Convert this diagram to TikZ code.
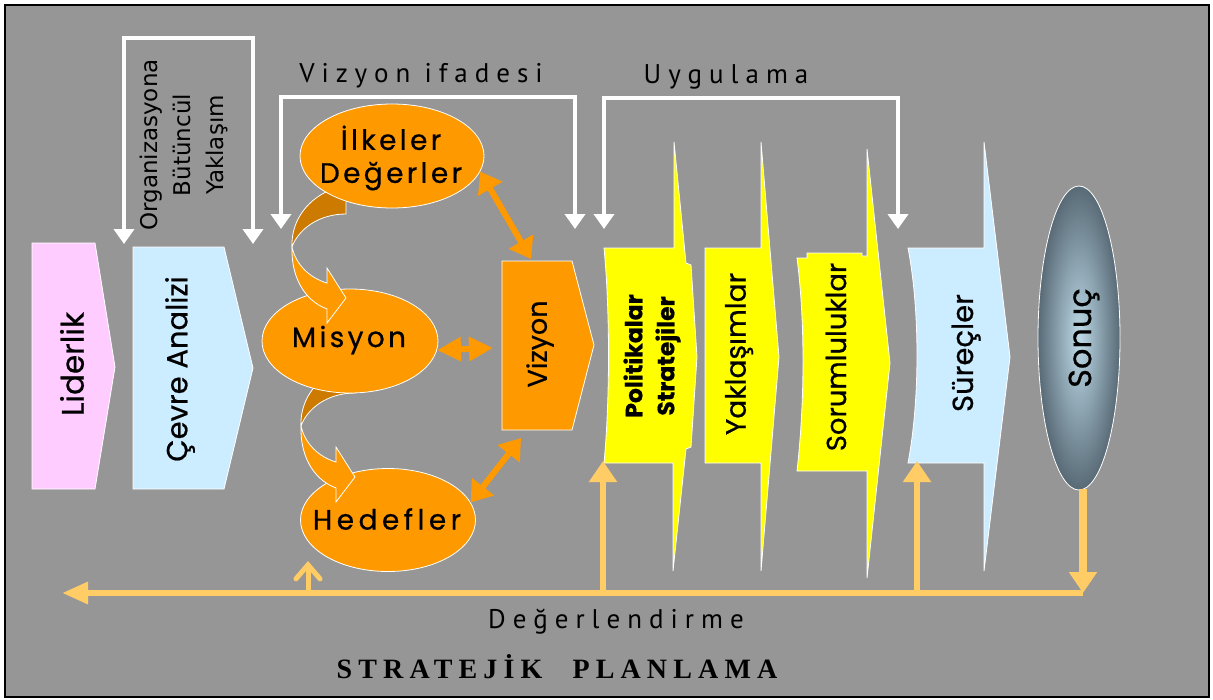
\documentclass[tikz,border=0pt]{standalone}
\usepackage{fontspec}
\usetikzlibrary{shapes.geometric, arrows.meta}

\newfontfamily\comicfont[FakeBold=0.6]{Poppins}
\newfontfamily\comicwide[LetterSpace=12,FakeBold=0.6]{Poppins}
\newfontfamily\labelfont[LetterSpace=26]{PT Sans}
\newfontfamily\plainsans{DejaVu Sans}
\newfontfamily\titlefont[LetterSpace=22]{Liberation Serif}

\definecolor{bggray}{RGB}{150,150,150}
\definecolor{orangeA}{RGB}{255,153,0}
\definecolor{orangeD}{RGB}{204,122,0}
\definecolor{pinkA}{RGB}{255,204,255}
\definecolor{blueA}{RGB}{204,236,255}
\definecolor{yellowA}{RGB}{255,255,0}
\definecolor{evalA}{RGB}{255,204,102}
\definecolor{slateD}{RGB}{88,106,118}
\definecolor{slateL}{RGB}{190,218,232}

\tikzset{
  shapebox/.style={draw=white, line width=0.8pt, line join=miter},
  rottext/.style={rotate=90, inner sep=0pt, text=black,
    font=\comicfont\fontsize{28}{30}\selectfont},
  oval/.style={ellipse, draw=white, line width=0.8pt, fill=orangeA, inner sep=0pt},
  ovaltext/.style={inner sep=0pt, align=center, text=black,
    font=\comicwide\fontsize{28}{33}\selectfont},
  bracket/.style={draw=white, line width=4pt, line join=miter,
    {Triangle[width=20pt,length=15pt]}-{Triangle[width=20pt,length=15pt]}},
  twoway/.style={draw=orangeA, line width=6pt,
    {Triangle[width=27pt,length=20pt]}-{Triangle[width=27pt,length=20pt]}},
  evalline/.style={draw=evalA, line width=6pt},
  evalhead/.style={-{Triangle[width=27pt,length=21pt]}},
  toplabel/.style={inner sep=0pt, anchor=base, text=black,
    font=\labelfont\fontsize{27}{30}\selectfont},
}

\begin{document}
\begin{tikzpicture}[x=1pt, y=-1pt]
\useasboundingbox (0,0) rectangle (1213,699);
\fill[white] (0,0) rectangle (1213,699);
\draw[black, line width=2.5pt, fill=bggray] (5,5) rectangle (1209,697);

% --- first two chevrons
\filldraw[shapebox, fill=pinkA] (32,243) -- (95,243) -- (115,367) -- (95,489) -- (32,489) -- cycle;
\node[rottext, font=\comicfont\fontsize{31}{32}\selectfont] (lider) at (72,364) {Liderlik};
\filldraw[shapebox, fill=blueA] (133,247) -- (224,247) -- (253,368) -- (224,489) -- (133,489) -- cycle;
\node[rottext, font=\comicfont\fontsize{29}{32}\selectfont] (cevre) at (180,369) {Çevre Analizi};

% --- implementation chevrons with spikes
\filldraw[shapebox, fill=yellowA] (604,248) -- (674,248) -- (674,142) -- (686,263) -- (691,265)
  -- (697,357) -- (691,447) -- (686,449) -- (673,571) -- (673,463) -- (604,463)
  .. controls (610,400) and (610,310) .. (604,248) -- cycle;
\node[rottext, align=center, font=\comicfont\bfseries\fontsize{23.5}{32}\selectfont] (polit) at (652,356) {Politikalar\\Stratejiler};

\filldraw[shapebox, fill=yellowA] (705,248) -- (761,248) -- (761,142) -- (779,357) -- (761,571)
  -- (761,463) -- (705,463) -- cycle;
\node[rottext] (yakl) at (739,354) {Yaklaşımlar};

\filldraw[shapebox, fill=yellowA] (797,258) -- (807,258) -- (807,253) -- (862,253) -- (862,256)
  -- (867,256) -- (867,149) -- (890,363) -- (867,578) -- (867,471) -- (797,471)
  .. controls (805,400) and (805,320) .. (797,258) -- cycle;
\node[rottext, font=\comicfont\fontsize{27.5}{30}\selectfont] (sorum) at (836,357) {Sorumluluklar};

\filldraw[shapebox, fill=blueA] (908,248) -- (984,248) -- (984,142) -- (1010,357) -- (984,571)
  -- (984,463) -- (908,463) .. controls (920,400) and (920,310) .. (908,248) -- cycle;
\node[rottext, font=\comicfont\fontsize{29}{30}\selectfont] (surec) at (966,353) {Süreçler};

% --- result
\shade[inner color=slateL, outer color=slateD] (1079,338) ellipse [x radius=41pt, y radius=152pt];
\draw[white, line width=0.8pt] (1079,338) ellipse [x radius=41pt, y radius=152pt];
\node[rottext, font=\comicfont\fontsize{32}{34}\selectfont] (sonuc) at (1084,338) {Sonuç};

% --- vision box
\filldraw[shapebox, fill=orangeA] (502,261) -- (572,261) -- (594,345) -- (572,430) -- (502,430) -- cycle;
\node[rottext, font=\comicfont\fontsize{27}{30}\selectfont] (vizyon) at (540,344) {Vizyon};

% --- ovals and twisted ribbon arrows, stacked back to front
\node[oval, minimum width=175pt, minimum height=103pt] (hed) at (388,520) {};
\node[ovaltext, font=\comicwide\addfontfeature{LetterSpace=16}\fontsize{28}{33}\selectfont] (hedT) at (387,519) {Hedefler};

\begin{scope}[shift={(9,179)}]
  \filldraw[shapebox, fill=orangeD] (330,190) .. controls (303,202) and (291,225) .. (292,247)
    .. controls (298,230) and (318,214) .. (346,214) -- (346,195) -- cycle;
  \filldraw[shapebox, fill=orangeA] (292,247) .. controls (291,275) and (303,300) .. (327,309)
    -- (327,323) -- (346,298) -- (327,268) -- (327,283)
    .. controls (310,278) and (296,265) .. (292,247) -- cycle;
\end{scope}

\node[oval, minimum width=176pt, minimum height=104pt] (mis) at (350,341) {};
\node[ovaltext] (misT) at (349,340) {Misyon};

\filldraw[shapebox, fill=orangeD] (330,190) .. controls (303,202) and (291,225) .. (292,247)
  .. controls (298,230) and (318,214) .. (346,214) -- (346,195) -- cycle;
\filldraw[shapebox, fill=orangeA] (292,247) .. controls (291,275) and (303,300) .. (327,309)
  -- (327,323) -- (346,298) -- (327,268) -- (327,283)
  .. controls (310,278) and (296,265) .. (292,247) -- cycle;

\node[oval, minimum width=184pt, minimum height=104pt] (ilk) at (392,156) {};
\node[ovaltext] (ilkT) at (391,158) {İlkeler\\Değerler};

% --- two-way links to the vision box
\coordinate (vizTop) at (531,259);
\coordinate (vizLeft) at (493,348);
\coordinate (vizBot) at (521,438);
\draw[twoway] (ilk.-10) -- (vizTop);
\draw[orangeA, line width=6pt, {Triangle[width=23pt,length=24pt]}-{Triangle[width=23pt,length=24pt]}] (mis.-6) -- (vizLeft);
\draw[twoway] (hed.12) -- (vizBot);

% --- white brackets
\coordinate (brA1) at (124,244);
\coordinate (brA2) at (253,244);
\coordinate (brB1) at (281,229);
\coordinate (brB2) at (575,229);
\coordinate (brC1) at (604,229);
\coordinate (brC2) at (898,229);
\draw[bracket] (brA1) -- (124,38) -- (253,38) -- (brA2);
\draw[bracket] (brB1) -- (281,97) -- (575,97) -- (brB2);
\draw[bracket] (brC1) -- (604,98) -- (898,98) -- (brC2);

\node[rotate=90, align=center, inner sep=0pt, text=black,
  font=\plainsans\fontsize{23}{33}\selectfont] (organ) at (184,145)
  {Organizasyona\\Bütüncül\\Yaklaşım};
\node[toplabel] (vifade) at (421,82) {Vizyon ifadesi};
\node[toplabel] (uygul) at (726,83) {Uygulama};

% --- evaluation feedback loop
\coordinate (evR) at (1083,593);
\coordinate (evL) at (62,593);
\coordinate (evP) at (603,593);
\coordinate (evS) at (917,593);
\coordinate (evH) at (308,593);
\coordinate (sonBot) at (1083,489);
\coordinate (politBot) at (603,461);
\coordinate (surecBot) at (917,461);
\coordinate (hedBot) at (308,561);
\draw[evalline, line width=8pt, evalhead] (sonBot) -- (evR);
\draw[evalline, -{Triangle[width=21pt,length=26pt]}] (evR) -- (evL);
\draw[evalline, evalhead] (evP) -- (politBot);
\draw[evalline, evalhead] (evS) -- (surecBot);
\draw[evalline, line width=5pt, line cap=round,
  -{Straight Barb[length=14pt,width=24pt,line cap=round]}] (evH) -- (hedBot);

\node[toplabel] (deger) at (616,628) {Değerlendirme};
\node[inner sep=0pt, anchor=base, text=black,
  font=\titlefont\bfseries\fontsize{28}{30}\selectfont] (title) at (557,678)
  {STRATEJİK\hspace{30pt}PLANLAMA};
\end{tikzpicture}
\end{document}
